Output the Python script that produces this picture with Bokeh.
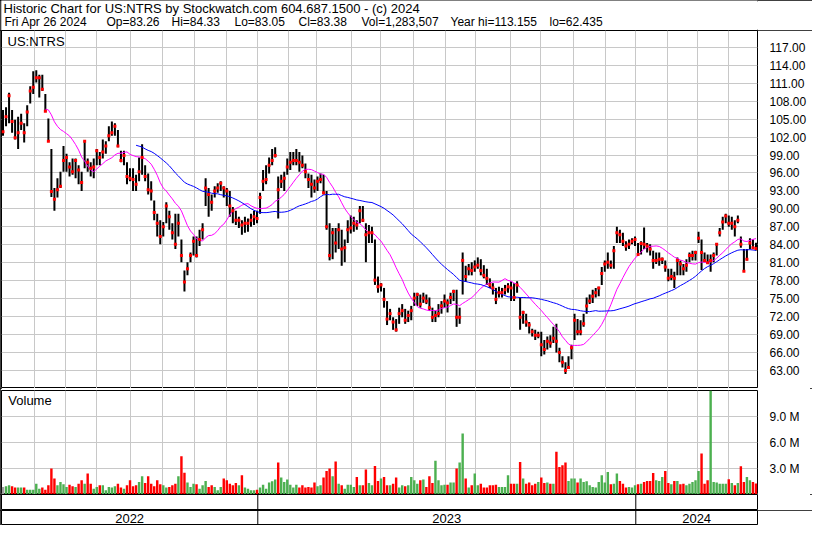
import numpy as np
from bokeh.plotting import figure
from bokeh.layouts import column
from bokeh.models import (Range1d, FixedTicker, PrintfTickFormatter, Span, Label,
                          ColumnDataSource, InlineStyleSheet)
from bokeh.core.properties import value
from bokeh.embed import file_html
from bokeh.resources import INLINE

# ---------------- data ----------------
TITLE_1 = "Historic Chart for US:NTRS by Stockwatch.com 604.687.1500 - (c) 2024"
TITLE_2_FIELDS = ["Fri Apr 26 2024", "Op=83.26", "Hi=84.33", "Lo=83.05", "Cl=83.38",
                  "Vol=1,283,507", "Year hi=113.155", "lo=62.435"]
SYMBOL = "US:NTRS"
VOLUME_TITLE = "Volume"

# trading days per month, May 2022 .. Apr 2024 (last bar Apr 26 2024)
MONTH_DAYS = [21, 21, 20, 23, 21, 21, 21, 21,
              20, 19, 23, 19, 22, 21, 20, 23, 20, 22, 21, 20,
              21, 20, 20, 19]
MONTH_YEAR = [2022] * 8 + [2023] * 12 + [2024] * 4
YEAR_LABELS = ["2022", "2023", "2024"]
STEP = 2  # one bar per two trading days

PRICE_TICKS = [63, 66, 69, 72, 75, 78, 81, 84, 87, 90, 93, 96, 99, 102, 105, 108, 111, 114, 117]
VOLUME_TICKS = [3, 6, 9]

HIGH = [
    106.5, 107.0, 109.4, 106.5, 104.9, 105.4, 105.9, 104.3, 107.3, 110.5,
    113.0, 113.155, 112.4, 112.4, 109.2, 105.1, 100.0, 93.5, 95.1, 96.2,
    100.5, 99.2, 97.8, 98.4, 98.4, 97.3, 96.2, 101.3, 98.4, 97.8,
    98.4, 100.0, 99.5, 101.6, 101.3, 103.8, 104.6, 104.3, 103.2, 99.7,
    99.7, 97.8, 96.8, 96.8, 95.7, 98.6, 100.8, 97.3, 95.9, 94.6,
    91.4, 89.2, 88.1, 87.8, 91.1, 89.7, 87.6, 89.2, 89.2, 84.9,
    79.7, 81.1, 82.7, 85.4, 85.4, 86.5, 87.6, 95.1, 93.5, 92.4,
    93.8, 94.3, 94.6, 93.8, 93.5, 93.0, 90.3, 89.7, 88.7, 88.1,
    88.7, 88.4, 89.2, 89.7, 89.7, 92.7, 96.5, 97.3, 98.6, 100.0,
    100.3, 95.4, 95.7, 96.2, 98.4, 99.5, 99.5, 100.0, 99.5, 98.9,
    97.6, 95.9, 95.7, 94.9, 95.4, 95.9, 95.7, 93.0, 87.6, 86.8,
    86.8, 87.6, 86.5, 84.9, 88.1, 88.9, 88.7, 88.1, 90.5, 90.5,
    87.6, 87.3, 87.0, 84.9, 78.7, 77.6, 76.8, 74.6, 73.3, 71.9,
    71.6, 73.5, 74.1, 73.3, 73.0, 73.8, 76.0, 76.0, 75.7, 76.0,
    75.7, 75.2, 73.5, 73.0, 74.1, 74.6, 75.7, 74.9, 76.0, 76.5,
    76.5, 73.5, 82.7, 80.5, 80.8, 81.1, 81.4, 81.9, 81.6, 80.6,
    80.0, 78.4, 77.6, 76.8, 77.0, 76.8, 77.3, 77.6, 77.9, 77.6,
    77.9, 75.2, 73.0, 72.5, 71.1, 70.0, 69.8, 69.5, 69.5, 68.1,
    68.7, 68.9, 70.3, 70.8, 66.8, 65.4, 64.4, 65.4, 67.3, 72.5,
    71.6, 71.4, 72.5, 75.2, 75.7, 76.5, 76.8, 77.0, 80.3, 81.4,
    82.7, 81.4, 83.8, 87.0, 86.5, 86.0, 84.6, 84.9, 85.1, 85.4,
    84.3, 84.6, 86.9, 84.3, 84.1, 83.0, 82.7, 82.7, 81.9, 81.4,
    80.0, 80.0, 79.5, 81.9, 81.4, 80.8, 81.6, 82.7, 83.0, 83.0,
    86.2, 84.9, 82.7, 82.4, 82.4, 82.7, 84.3, 86.8, 88.7, 89.2,
    88.9, 88.7, 88.1, 88.9, 85.4, 83.3, 83.3, 85.1, 84.9, 84.33,
]
LOW = [
    102.2, 103.8, 104.3, 102.7, 101.6, 100.0, 103.2, 101.1, 103.8, 107.6,
    109.2, 111.1, 108.6, 109.7, 106.2, 101.3, 92.0, 89.7, 91.9, 93.5,
    96.2, 96.2, 95.4, 95.7, 95.1, 94.1, 93.0, 96.8, 96.2, 95.4,
    95.1, 97.3, 97.3, 98.4, 99.2, 101.3, 102.2, 102.2, 100.3, 97.8,
    97.3, 94.1, 94.6, 93.0, 93.0, 94.6, 95.7, 94.6, 92.4, 91.4,
    88.1, 85.4, 84.1, 85.4, 87.6, 86.5, 84.9, 83.3, 85.4, 81.1,
    76.2, 78.9, 81.1, 82.2, 81.9, 83.8, 84.9, 90.5, 88.7, 89.7,
    91.9, 92.7, 93.0, 91.9, 90.5, 88.7, 87.6, 87.3, 86.8, 85.7,
    86.0, 86.2, 87.0, 87.3, 87.6, 89.2, 93.0, 94.1, 95.9, 97.3,
    98.6, 88.4, 93.5, 93.0, 95.7, 96.5, 97.3, 97.3, 96.2, 96.8,
    95.1, 93.5, 91.9, 92.7, 93.0, 94.3, 92.4, 86.5, 81.4, 81.6,
    82.7, 83.3, 80.5, 81.1, 84.3, 85.9, 86.2, 86.5, 87.6, 87.8,
    81.1, 84.3, 84.3, 77.3, 76.0, 76.2, 73.5, 70.6, 71.4, 69.8,
    69.5, 70.8, 71.9, 70.8, 71.1, 71.4, 73.8, 73.8, 73.5, 74.3,
    74.1, 73.0, 71.1, 71.1, 71.9, 72.5, 73.5, 72.7, 74.1, 74.6,
    70.3, 70.8, 75.7, 77.8, 78.9, 78.9, 79.5, 80.0, 78.9, 78.4,
    77.3, 76.8, 75.7, 74.1, 75.2, 75.2, 75.7, 76.0, 74.6, 74.6,
    76.0, 69.8, 70.8, 70.3, 69.2, 68.7, 68.1, 68.4, 65.4, 65.7,
    66.5, 66.8, 67.6, 66.0, 64.4, 63.5, 62.435, 63.3, 64.9, 68.1,
    68.9, 68.9, 70.3, 72.5, 74.1, 74.3, 75.2, 75.4, 77.3, 79.5,
    80.0, 80.0, 80.0, 84.3, 84.3, 83.8, 83.0, 83.3, 84.1, 83.8,
    82.2, 82.4, 83.3, 82.7, 82.2, 80.0, 80.8, 80.5, 80.8, 79.5,
    77.9, 78.1, 76.8, 78.9, 78.9, 78.9, 79.5, 81.1, 81.4, 81.4,
    84.3, 79.8, 81.1, 80.8, 79.5, 81.1, 82.2, 85.4, 86.5, 87.6,
    87.0, 86.5, 85.4, 87.6, 83.5, 79.5, 81.4, 83.3, 83.3, 83.05,
]
CLOSE = [
    102.9, 105.4, 108.9, 104.6, 101.9, 102.7, 104.3, 102.7, 106.2, 109.7,
    110.3, 111.9, 111.9, 110.0, 106.3, 101.3, 92.9, 91.6, 93.2, 93.8,
    98.1, 98.6, 97.0, 96.2, 98.1, 96.5, 94.4, 101.3, 97.8, 96.8,
    97.0, 99.7, 98.6, 99.5, 100.5, 102.2, 102.7, 103.8, 100.5, 98.1,
    98.9, 95.4, 95.1, 94.9, 94.1, 96.2, 98.6, 95.4, 93.2, 93.0,
    89.4, 87.6, 85.4, 87.0, 90.5, 88.7, 86.0, 84.1, 87.6, 82.2,
    77.8, 80.0, 82.2, 84.6, 82.2, 84.9, 86.5, 93.5, 92.4, 91.1,
    93.0, 93.5, 94.3, 93.5, 93.0, 90.5, 89.7, 88.1, 88.1, 87.3,
    87.6, 87.6, 88.1, 88.7, 88.4, 91.9, 94.6, 94.9, 97.3, 98.1,
    98.9, 93.2, 94.6, 95.1, 97.0, 97.8, 98.1, 98.1, 97.8, 97.3,
    96.2, 94.9, 94.1, 93.5, 94.6, 94.9, 92.7, 87.0, 82.2, 86.0,
    84.3, 86.5, 83.3, 83.5, 86.5, 86.8, 87.6, 87.3, 89.7, 88.1,
    85.7, 86.0, 86.0, 78.1, 77.0, 77.3, 74.9, 71.6, 72.5, 71.1,
    69.8, 72.5, 73.0, 71.4, 72.2, 73.0, 75.1, 75.7, 74.1, 75.1,
    74.6, 73.5, 71.9, 72.2, 72.5, 73.8, 74.6, 74.3, 75.2, 76.2,
    71.9, 71.9, 81.4, 78.7, 80.0, 79.7, 80.3, 80.6, 79.7, 78.9,
    78.4, 77.3, 76.8, 74.9, 76.0, 76.0, 76.5, 77.0, 76.8, 75.2,
    77.3, 71.9, 72.7, 71.1, 70.6, 69.5, 68.9, 68.9, 67.3, 66.5,
    67.9, 67.6, 68.4, 67.9, 66.0, 64.4, 63.0, 63.5, 66.8, 71.4,
    69.5, 69.5, 70.8, 73.8, 74.6, 75.4, 76.0, 76.8, 79.2, 80.8,
    81.1, 80.6, 83.0, 86.0, 85.7, 84.6, 83.8, 84.1, 84.6, 84.9,
    82.4, 84.2, 84.1, 83.8, 83.3, 81.4, 81.4, 81.6, 81.6, 80.3,
    78.4, 78.7, 78.4, 81.4, 80.8, 80.0, 80.6, 82.2, 82.2, 82.7,
    85.1, 82.7, 81.4, 81.0, 81.4, 82.2, 84.1, 86.0, 87.8, 88.8,
    87.6, 87.6, 87.0, 88.1, 84.1, 79.6, 81.6, 84.3, 83.5, 83.38,
]
VOLUME_M = [
    0.87, 0.95, 1.07, 0.95, 0.80, 0.80, 0.80, 0.80, 0.56, 0.56,
    0.56, 1.26, 0.68, 0.80, 0.56, 1.07, 3.00, 1.84, 1.07, 1.45,
    1.18, 0.87, 1.14, 0.95, 0.87, 1.26, 1.65, 1.26, 2.42, 1.26,
    0.68, 0.87, 1.07, 1.07, 0.49, 0.87, 0.80, 0.95, 1.26, 0.80,
    0.68, 1.07, 1.65, 0.95, 1.07, 1.45, 2.11, 1.34, 2.11, 1.26,
    0.95, 1.65, 1.18, 1.07, 0.80, 0.87, 1.07, 1.26, 2.11, 4.44,
    2.53, 1.38, 0.87, 1.26, 1.18, 0.68, 1.07, 1.57, 0.87, 1.07,
    0.87, 0.49, 0.87, 1.84, 1.65, 1.26, 1.07, 1.34, 1.07, 2.23,
    0.80, 0.68, 0.49, 0.49, 0.56, 0.80, 1.14, 0.68, 1.38, 1.53,
    1.73, 3.70, 1.96, 1.45, 1.73, 1.14, 0.80, 1.14, 0.80, 1.07,
    0.80, 0.87, 0.80, 1.38, 0.95, 1.07, 1.96, 2.73, 3.00, 2.11,
    3.82, 1.26, 1.07, 0.68, 1.14, 1.14, 0.87, 2.04, 1.07, 1.07,
    2.89, 1.34, 1.07, 3.31, 1.57, 1.84, 2.04, 1.07, 1.07, 1.26,
    1.96, 0.80, 1.07, 0.95, 1.07, 2.04, 1.65, 1.26, 1.65, 1.73,
    0.87, 2.11, 1.34, 3.90, 1.65, 1.07, 1.14, 1.14, 1.38, 1.38,
    3.00, 3.70, 7.07, 1.84, 0.80, 1.07, 2.42, 1.07, 1.26, 0.80,
    0.80, 1.07, 1.07, 1.14, 0.87, 0.87, 0.87, 2.23, 1.26, 1.26,
    1.26, 3.78, 1.84, 1.26, 1.38, 1.07, 1.26, 1.45, 1.96, 1.34,
    1.38, 1.26, 1.26, 4.94, 3.20, 3.39, 3.70, 1.57, 1.84, 1.84,
    1.38, 1.84, 1.45, 1.53, 1.07, 0.87, 0.80, 1.45, 2.23, 1.38,
    2.62, 1.18, 1.26, 2.42, 1.57, 1.26, 0.80, 0.87, 0.80, 1.07,
    1.18, 1.26, 1.45, 1.57, 1.57, 2.50, 1.65, 1.57, 2.04, 2.73,
    1.34, 1.18, 1.57, 1.57, 1.18, 1.26, 1.07, 1.26, 1.45, 1.65,
    2.73, 4.75, 1.26, 1.65, 13.0, 1.45, 1.38, 1.26, 1.26, 1.26,
    1.76, 1.34, 1.07, 1.34, 3.28, 1.45, 2.04, 1.65, 1.45, 1.28,
]

# ---------------- derived quantities ----------------
n = len(CLOSE)
x = np.arange(n) * STEP                      # trading-day index of each bar
close = np.array(CLOSE)
colors = ["#a0a0a0"] + ["#4cb050" if close[i] >= close[i - 1] else "#ff0000" for i in range(1, n)]


def sma(vals, w):
    return np.convolve(vals, np.ones(w) / w, mode="valid")


MA_FAST, MA_SLOW = 15, 45                    # 30 and 90 trading days
ma_fast = sma(close, MA_FAST)
ma_slow = sma(close, MA_SLOW)

starts = np.cumsum([0] + MONTH_DAYS[:-1])
MONTH_GRID = [float(s) - 0.5 for s in starts[1:]]
year_first = {}
for s, yr in zip(starts, MONTH_YEAR):
    year_first.setdefault(yr, float(s) - 0.5)
YEAR_BOUNDS = [year_first[2023], year_first[2024]]

X_START, X_END = -1, 499
edges = [X_START] + YEAR_BOUNDS + [X_END]
YEAR_MID = [(edges[i] + edges[i + 1]) / 2 for i in range(3)]

src = ColumnDataSource(dict(x=x, high=HIGH, low=LOW, close=CLOSE, vol=VOLUME_M, color=colors))

# ---------------- layout ----------------
W = 812
BL, BR = 1, 55                                # left / right borders of every panel
FONT = "Liberation Sans"
GRID_COLOR = "#c8c8c8"
BOX = InlineStyleSheet(css=":host { outline: 1px solid #000; outline-offset: -1px; }")
OUTER = InlineStyleSheet(css=":host { outline: 2px solid #000; outline-offset: -2px; }")

xr = Range1d(X_START, X_END)


def panel(height, y_range, **kw):
    args = dict(width=W, height=height, x_range=xr, y_range=y_range,
                toolbar_location=None, output_backend="svg",
                min_border_left=BL, min_border_right=BR, min_border_top=0, min_border_bottom=0,
                outline_line_color="black", outline_line_width=1,
                background_fill_color="white", border_fill_color="white")
    args.update(kw)
    return figure(**args)


# header: frame laid out like the panels, range chosen so that 1 unit = 1 screen pixel
hdr = figure(width=W, height=30, x_range=Range1d(BL, W - BR), y_range=Range1d(30, 0),
             toolbar_location=None, output_backend="svg",
             min_border_left=BL, min_border_right=BR, min_border_top=0, min_border_bottom=0,
             x_axis_location=None, y_axis_location=None, outline_line_color=None,
             stylesheets=[BOX])
hdr.grid.visible = False
hdr.add_layout(Label(x=3, y=8, text=TITLE_1, text_font=FONT, text_font_size="13px",
                     text_baseline="middle", text_color="black"))
FIELD_X = [4, 106, 171, 234, 298, 361, 450, 549]
for fx, ftxt in zip(FIELD_X, TITLE_2_FIELDS):
    hdr.add_layout(Label(x=fx, y=21.5, text=ftxt, text_font=FONT, text_font_size="12px",
                         text_baseline="middle", text_color="black"))

# price panel
pp = panel(358, Range1d(60.0, 119.8), x_axis_location=None, y_axis_location="right",
           stylesheets=[BOX])
pp.yaxis.ticker = FixedTicker(ticks=PRICE_TICKS)
pp.yaxis.formatter = PrintfTickFormatter(format="%.2f")
pp.ygrid.ticker = FixedTicker(ticks=PRICE_TICKS)
pp.xgrid.ticker = FixedTicker(ticks=MONTH_GRID)
for g in pp.grid:
    g.grid_line_color = GRID_COLOR
    g.grid_line_width = 1

pp.segment(x0="x", y0="low", x1="x", y1="high", source=src, line_color="black", line_width=2)
pp.line(x[MA_FAST - 1:], ma_fast, line_color="#ff00ff", line_width=1)
pp.line(x[MA_SLOW - 1:], ma_slow, line_color="#0000ff", line_width=1)
pp.scatter("x", "close", source=src, marker="square", size=3, fill_color="#ff0000", line_color=None)
pp.add_layout(Label(x=3, y=118.0, text=SYMBOL, text_font=FONT, text_font_size="13px",
                    text_baseline="middle", text_color="black"))

# volume panel
vp = panel(106, Range1d(0, 12.05), x_axis_location=None, y_axis_location="right",
           min_border_top=2)
vp.yaxis.ticker = FixedTicker(ticks=VOLUME_TICKS)
vp.yaxis.formatter = PrintfTickFormatter(format="%.1f M")
vp.ygrid.ticker = FixedTicker(ticks=VOLUME_TICKS)
vp.xgrid.ticker = FixedTicker(ticks=MONTH_GRID)
for g in vp.grid:
    g.grid_line_color = GRID_COLOR
    g.grid_line_width = 1
vp.vbar(x="x", top="vol", bottom=0, width=1.6, source=src, fill_color="color", line_color=None)
vp.add_layout(Label(x=3.5, y=10.9, text=VOLUME_TITLE, text_font=FONT, text_font_size="13px",
                    text_baseline="middle", text_color="black"))

for f in (pp, vp):
    f.yaxis.major_tick_line_color = None
    f.yaxis.minor_tick_line_color = None
    f.yaxis.axis_line_color = None
    f.yaxis.major_label_standoff = 6
    f.yaxis.major_label_text_font = FONT
    f.yaxis.major_label_text_font_size = "12px"
    f.yaxis.major_label_text_color = "black"

# date rows
mrow = panel(16, Range1d(0, 1), x_axis_location=None, y_axis_location=None)
yrow = panel(15, Range1d(0, 1), x_axis_location=None, y_axis_location=None, stylesheets=[BOX])
for f in (mrow, yrow):
    f.grid.visible = False
    for b in YEAR_BOUNDS:
        f.add_layout(Span(location=b, dimension="height", line_color="black", line_width=1))
yrow.text(x=YEAR_MID, y=[0.5] * 3, text=YEAR_LABELS, text_font=value(FONT), text_font_size="13px",
          text_align="center", text_baseline="middle", text_color="black")

layout = column(hdr, pp, vp, mrow, yrow, spacing=0, stylesheets=[OUTER])

open("out.html", "w").write(file_html(layout, INLINE))
